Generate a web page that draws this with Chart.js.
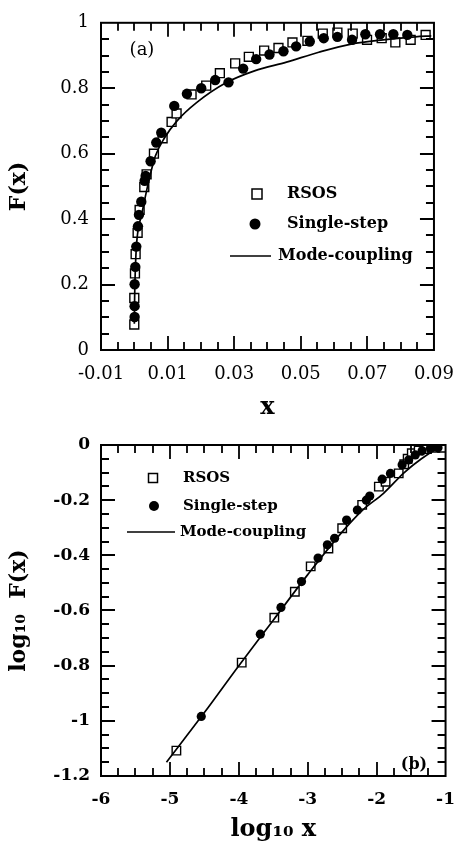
<!DOCTYPE html>
<html>
<head>
<title>F(x) scaling function</title>
<script src="https://cdn.jsdelivr.net/npm/chart.js"></script>
<style>
  body { margin: 0; background: #fff; }
  canvas { position: absolute; left: 0; }
</style>
</head>
<body>
<canvas id="chartA" width="468" height="422" style="top:0px"></canvas>
<canvas id="chartB" width="468" height="422" style="top:422px"></canvas>
<script>
// ---- panel (a): F(x) vs x ----
var xTicksA = [-0.01, 0.01, 0.03, 0.05, 0.07, 0.09];
var yTicksA = [0, 0.2, 0.4, 0.6, 0.8, 1];

var rsosXA = [0.0000, 0.0000, 0.0002, 0.0004, 0.0010, 0.0016, 0.0030, 0.0037, 0.0059, 0.0085, 0.0112, 0.0127, 0.0172, 0.0216, 0.0257, 0.0303, 0.0344, 0.0390, 0.0433, 0.0475, 0.0520, 0.0566, 0.0610, 0.0656, 0.0699, 0.0743, 0.0784, 0.0830, 0.0875];
var rsosYA = [0.078, 0.159, 0.234, 0.293, 0.358, 0.428, 0.498, 0.537, 0.600, 0.647, 0.697, 0.723, 0.781, 0.808, 0.846, 0.876, 0.896, 0.915, 0.923, 0.940, 0.945, 0.967, 0.970, 0.967, 0.948, 0.953, 0.940, 0.948, 0.963];

var singleXA = [0.0001, 0.0001, 0.0001, 0.0003, 0.0006, 0.0011, 0.0014, 0.0021, 0.0031, 0.0034, 0.0049, 0.0066, 0.0081, 0.0120, 0.0158, 0.0201, 0.0243, 0.0283, 0.0327, 0.0366, 0.0406, 0.0448, 0.0486, 0.0527, 0.0569, 0.0610, 0.0654, 0.0694, 0.0738, 0.0778, 0.0820];
var singleYA = [0.101, 0.134, 0.201, 0.254, 0.316, 0.378, 0.413, 0.453, 0.517, 0.532, 0.577, 0.634, 0.664, 0.746, 0.783, 0.800, 0.825, 0.818, 0.860, 0.889, 0.903, 0.913, 0.928, 0.943, 0.953, 0.957, 0.948, 0.965, 0.965, 0.965, 0.963];

var modeXA = [0.00001, 0.0001, 0.0004, 0.0008, 0.0023, 0.0042, 0.0063, 0.0090, 0.0129, 0.0187, 0.0274, 0.0361, 0.0457, 0.0554, 0.0651, 0.0747, 0.0844, 0.0892];
var modeYA = [0.080, 0.160, 0.270, 0.338, 0.418, 0.510, 0.592, 0.647, 0.701, 0.756, 0.816, 0.853, 0.880, 0.910, 0.935, 0.948, 0.957, 0.960];

// ---- panel (b): log10 F(x) vs log10 x ----
var xTicksB = [-6, -5, -4, -3, -2, -1];
var yTicksB = [0, -0.2, -0.4, -0.6, -0.8, -1, -1.2];

var rsosXB = [-4.906, -3.958, -3.485, -3.187, -2.957, -2.700, -2.500, -2.210, -1.968, -1.870, -1.680, -1.600, -1.550, -1.490, -1.390, -1.270, -1.150, -1.050];
var rsosYB = [-1.108, -0.789, -0.626, -0.532, -0.440, -0.375, -0.302, -0.217, -0.151, -0.133, -0.103, -0.070, -0.050, -0.030, -0.020, -0.015, -0.010, -0.010];

var singleXB = [-4.545, -3.688, -3.389, -3.090, -2.850, -2.715, -2.610, -2.436, -2.280, -2.150, -2.100, -1.920, -1.800, -1.630, -1.535, -1.440, -1.340, -1.220, -1.110];
var singleYB = [-0.984, -0.686, -0.589, -0.495, -0.410, -0.362, -0.338, -0.272, -0.236, -0.200, -0.185, -0.124, -0.103, -0.072, -0.054, -0.036, -0.021, -0.012, -0.010];

var modeXB = [-5.05, -4.50, -4.00, -3.50, -3.00, -2.50, -2.20, -1.90, -1.60, -1.35, -1.15, -1.05];
var modeYB = [-1.150, -0.970, -0.800, -0.635, -0.470, -0.315, -0.235, -0.175, -0.100, -0.050, -0.018, -0.010];

function pts(xs, ys) {
  return xs.map(function (x, i) { return { x: x, y: ys[i] }; });
}

var SERIF = "'DejaVu Serif', 'Liberation Serif', serif";

function isMajor(v, from, step) {
  var k = (v - from) / step;
  return Math.abs(k - Math.round(k)) < 1e-6;
}

// frame with inward ticks on all four sides
var frameTicks = {
  id: 'frameTicks',
  afterDraw: function (chart, args, o) {
    var ctx = chart.ctx, a = chart.chartArea, xs = chart.scales.x, ys = chart.scales.y;
    ctx.save();
    ctx.strokeStyle = '#000';
    ctx.lineWidth = 2;
    ctx.strokeRect(a.left, a.top, a.right - a.left, a.bottom - a.top);
    ctx.lineWidth = 1.8;
    ctx.beginPath();
    var n = Math.round((xs.max - xs.min) / o.xMinor), i, v, p, len;
    for (i = 1; i < n; i++) {
      v = xs.min + i * o.xMinor;
      p = Math.round(xs.getPixelForValue(v));
      len = isMajor(v, o.xFrom, o.xMajor) ? o.major : o.minor;
      ctx.moveTo(p, a.bottom); ctx.lineTo(p, a.bottom - len);
      ctx.moveTo(p, a.top); ctx.lineTo(p, a.top + len);
    }
    n = Math.round((ys.max - ys.min) / o.yMinor);
    for (i = 1; i < n; i++) {
      v = ys.min + i * o.yMinor;
      p = Math.round(ys.getPixelForValue(v));
      len = isMajor(v, o.yFrom, o.yMajor) ? o.major : o.minor;
      ctx.moveTo(a.left, p); ctx.lineTo(a.left + len, p);
      ctx.moveTo(a.right, p); ctx.lineTo(a.right - len, p);
    }
    ctx.stroke();
    ctx.restore();
  }
};

// hand placed legend and panel tag, like the figure
var figLegend = {
  id: 'figLegend',
  afterDraw: function (chart, args, o) {
    var ctx = chart.ctx;
    ctx.save();
    ctx.fillStyle = '#000';
    ctx.strokeStyle = '#000';
    ctx.textBaseline = 'middle';
    ctx.font = o.font;
    o.items.forEach(function (it) {
      if (it.kind === 'rect') {
        ctx.lineWidth = 1.5;
        ctx.fillStyle = '#fff';
        ctx.fillRect(it.cx - it.s / 2, it.cy - it.s / 2, it.s, it.s);
        ctx.strokeRect(it.cx - it.s / 2, it.cy - it.s / 2, it.s, it.s);
        ctx.fillStyle = '#000';
      } else if (it.kind === 'circle') {
        ctx.beginPath();
        ctx.arc(it.cx, it.cy, it.s / 2, 0, Math.PI * 2);
        ctx.fill();
      } else {
        ctx.lineWidth = 1.6;
        ctx.beginPath();
        ctx.moveTo(it.x1, it.cy); ctx.lineTo(it.x2, it.cy);
        ctx.stroke();
      }
      ctx.fillText(it.text, it.tx, it.cy);
    });
    ctx.font = o.tagFont;
    ctx.textAlign = 'center';
    ctx.fillText(o.tag, o.tagX, o.tagY);
    ctx.restore();
  }
};

function makeChart(id, d) {
  return new Chart(document.getElementById(id), {
    type: 'scatter',
    data: {
      datasets: [{
        label: 'Single-step',
        data: d.single,
        pointStyle: 'circle',
        pointRadius: d.circleR,
        pointBackgroundColor: '#000',
        pointBorderColor: '#000',
        pointBorderWidth: 0,
        order: 0
      }, {
        label: 'Mode-coupling',
        data: d.mode,
        showLine: true,
        pointRadius: 0,
        borderColor: '#000',
        borderWidth: 1.7,
        tension: 0.3,
        cubicInterpolationMode: 'monotone',
        order: 1
      }, {
        label: 'RSOS',
        data: d.rsos,
        pointStyle: 'rect',
        pointRadius: d.rectR,
        pointBackgroundColor: '#fff',
        pointBorderColor: '#000',
        pointBorderWidth: 1.4,
        order: 2
      }]
    },
    options: {
      responsive: false,
      animation: false,
      layout: { padding: { top: d.padTop, right: d.padRight, left: 0, bottom: 0 } },
      plugins: {
        legend: { display: false },
        tooltip: { enabled: false },
        frameTicks: d.ticks,
        figLegend: d.legend
      },
      scales: {
        x: {
          type: 'linear',
          min: d.xTicks[0],
          max: d.xTicks[d.xTicks.length - 1],
          afterBuildTicks: function (s) { s.ticks = d.xTicks.map(function (v) { return { value: v }; }); },
          afterFit: function (s) { s.height = d.xAxisH; },
          grid: { display: false, drawTicks: false },
          border: { display: false },
          ticks: {
            color: '#000',
            padding: d.xPad,
            maxRotation: 0,
            autoSkip: false,
            font: { family: SERIF, size: d.tickSize, weight: d.tickWeight },
            callback: d.xFmt
          },
          title: {
            display: true,
            text: d.xTitle,
            color: '#000',
            padding: 0,
            font: { family: SERIF, size: d.xTitleSize, weight: 'bold' }
          }
        },
        y: {
          type: 'linear',
          min: Math.min.apply(null, d.yTicks),
          max: Math.max.apply(null, d.yTicks),
          afterBuildTicks: function (s) { s.ticks = d.yTicks.map(function (v) { return { value: v }; }); },
          afterFit: function (s) { s.width = 101; },
          grid: { display: false, drawTicks: false },
          border: { display: false },
          ticks: {
            color: '#000',
            padding: d.yPad,
            autoSkip: false,
            font: { family: SERIF, size: d.tickSize, weight: d.tickWeight },
            callback: function (v) { return String(+v.toFixed(2)); }
          },
          title: {
            display: true,
            text: d.yTitle,
            color: '#000',
            padding: { top: 6, bottom: 0 },
            font: { family: SERIF, size: d.yTitleSize, weight: 'bold' }
          }
        }
      }
    },
    plugins: [frameTicks, figLegend]
  });
}

makeChart('chartA', {
  rsos: pts(rsosXA, rsosYA),
  single: pts(singleXA, singleYA),
  mode: pts(modeXA, modeYA),
  xTicks: xTicksA, yTicks: yTicksA,
  xFmt: function (v) { return v.toFixed(2); },
  padTop: 15, padRight: 22, xAxisH: 72,
  xPad: 14, yPad: 12, tickSize: 18, tickWeight: 'normal',
  circleR: 5.2, rectR: 6.3,
  xTitle: 'x', xTitleSize: 24,
  yTitle: 'F(x)', yTitleSize: 22,
  ticks: { xMinor: 0.005, xMajor: 0.02, xFrom: -0.01, yMinor: 0.05, yMajor: 0.2, yFrom: 0, major: 14, minor: 8 },
  legend: {
    font: 'bold 16px ' + SERIF,
    items: [
      { kind: 'rect', cx: 257, cy: 194, s: 10, text: 'RSOS', tx: 287 },
      { kind: 'circle', cx: 255, cy: 224, s: 11, text: 'Single-step', tx: 287 },
      { kind: 'line', x1: 230, x2: 271, cy: 256, text: 'Mode-coupling', tx: 278 }
    ],
    tag: '(a)', tagFont: '18px ' + SERIF, tagX: 142, tagY: 50
  }
});

makeChart('chartB', {
  rsos: pts(rsosXB, rsosYB),
  single: pts(singleXB, singleYB),
  mode: pts(modeXB, modeYB),
  xTicks: xTicksB, yTicks: yTicksB,
  xFmt: function (v) { return String(v); },
  padTop: 23, padRight: 21, xAxisH: 68,
  xPad: 13, yPad: 11, tickSize: 17, tickWeight: 'bold',
  circleR: 4.6, rectR: 6,
  xTitle: 'log\u2081\u2080 x', xTitleSize: 24,
  yTitle: 'log\u2081\u2080  F(x)', yTitleSize: 22,
  ticks: { xMinor: 0.25, xMajor: 1, xFrom: -6, yMinor: 0.05, yMajor: 0.2, yFrom: 0, major: 14, minor: 8 },
  legend: {
    font: 'bold 15px ' + SERIF,
    items: [
      { kind: 'rect', cx: 153, cy: 56, s: 9, text: 'RSOS', tx: 183 },
      { kind: 'circle', cx: 154, cy: 84, s: 10, text: 'Single-step', tx: 183 },
      { kind: 'line', x1: 127, x2: 175, cy: 110, text: 'Mode-coupling', tx: 180 }
    ],
    tag: '(b)', tagFont: 'bold 16px ' + SERIF, tagX: 414, tagY: 343
  }
});
</script>
</body>
</html>
